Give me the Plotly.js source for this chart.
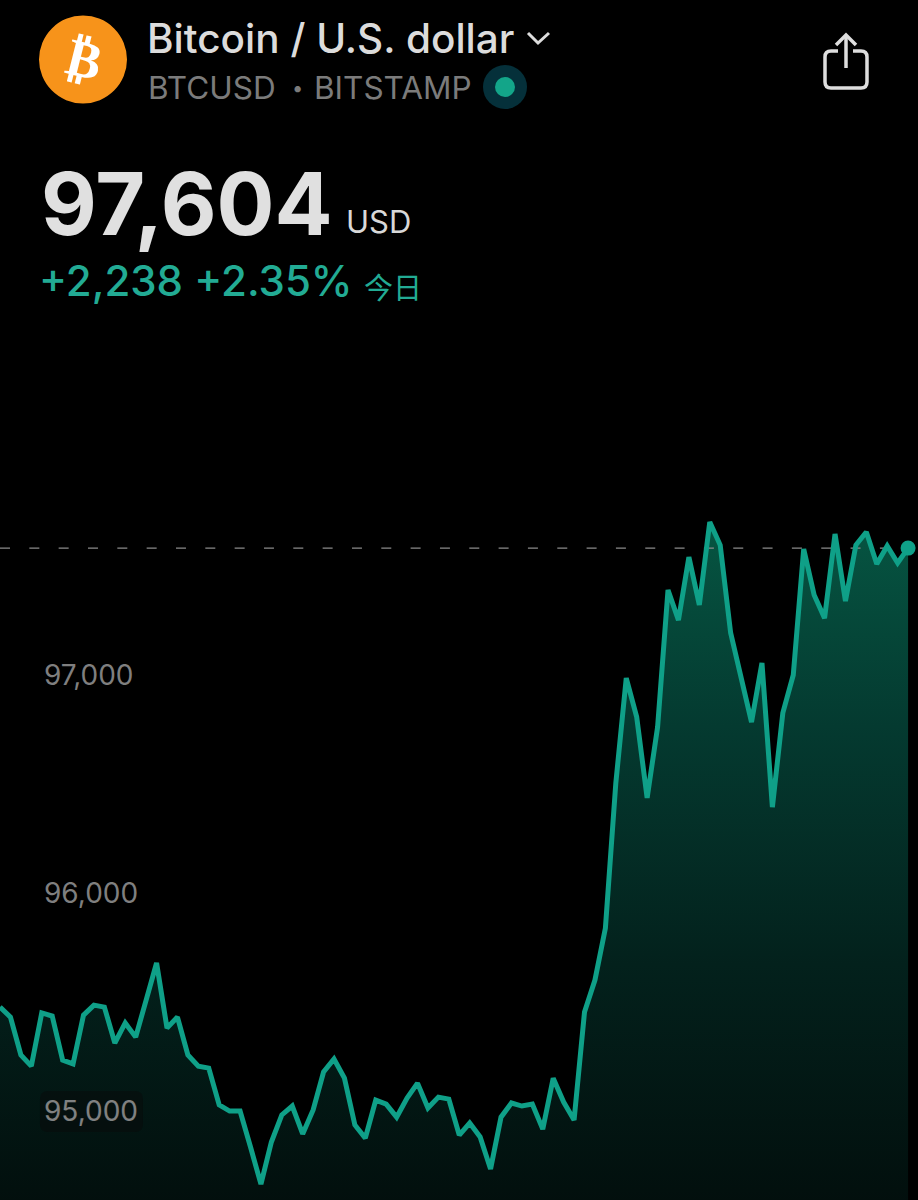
<!DOCTYPE html>
<html>
<head>
<meta charset="utf-8">
<script src="https://cdn.plot.ly/plotly-3.0.1.min.js"></script>
<style>html,body{margin:0;padding:0;background:#000;overflow:hidden}#chart{width:918px;height:1200px}</style>
</head>
<body>
<div id="chart"></div>
<script>
const prices = [95477,95431,95257,95206,95450,95436,95234,95216,95440,95486,95477,95312,95404,95339,95509,95679,95381,95431,95257,95206,95197,95028,95000,95000,94835,94665,94858,94982,95023,94895,95005,95179,95239,95151,94936,94876,95050,95032,94972,95060,95128,95014,95064,95055,94890,94945,94881,94734,94972,95037,95023,95032,94917,95151,95041,94959,95454,95601,95839,96505,96986,96807,96436,96761,97390,97252,97541,97321,97702,97596,97193,96977,96784,97055,96394,96826,97000,97578,97367,97261,97647,97339,97596,97656,97509,97592,97514,97582];
const tickValues = [95000,96000,97000];
const tickLabels = ['<span style="color:#f8f8f8">95,000</span>','96,000','97,000'];
const floorPrice = 94580;
const samples = prices.map((_, i) => i);
const lastIndex = samples[samples.length - 1];
const lastPrice = prices[prices.length - 1];

const W = 918, H = 1200;
const X = p => p / W, Y = p => 1 - p / H;
const P = (cmd, x, y) => cmd + X(x).toFixed(5) + ' ' + Y(y).toFixed(5);
const Q = (cx, cy, x, y) => 'Q' + X(cx).toFixed(5) + ' ' + Y(cy).toFixed(5) + ' ' + X(x).toFixed(5) + ' ' + Y(y).toFixed(5);
const polyPath = pts => pts.map((p, i) => P(i ? 'L' : 'M', p[0], p[1])).join(' ');
const circle = (cx, cy, r, color) => ({type:'circle', xref:'paper', yref:'paper', x0:X(cx-r), x1:X(cx+r), y0:Y(cy+r), y1:Y(cy-r), fillcolor:color, line:{width:0}, layer:'above'});
const stroke = (d, color, w) => ({type:'path', xref:'paper', yref:'paper', path:d, line:{color:color, width:w}, layer:'above'});
const label = (text, x, y, size, color, family, weight, extra) => Object.assign({xref:'paper', yref:'paper', x:X(x), y:Y(y), text:text, showarrow:false, xanchor:'left', yanchor:'middle', borderpad:0, font:{size:size, color:color, family:family, weight:weight}}, extra || {});

const chipPath = [P('M',48,1091),P('L',135,1091),Q(143,1091,143,1099),P('L',143,1124),Q(143,1132,135,1132),P('L',48,1132),Q(40,1132,40,1124),P('L',40,1099),Q(40,1091,48,1091),'Z'].join(' ');
const sharePath = [P('M',838,51),P('L',831,51),Q(825,51,825,57),P('L',825,82),Q(825,88,831,88),P('L',861,88),Q(867,88,867,82),P('L',867,57),Q(867,51,861,51),P('L',853,51)].join(' ');

const traces = [
  {x:samples, y:samples.map(() => floorPrice), mode:'lines', line:{width:0}, hoverinfo:'skip', showlegend:false},
  {x:samples, y:prices, mode:'lines', line:{width:0}, fill:'tonexty', hoverinfo:'skip', showlegend:false,
   fillgradient:{type:'vertical', colorscale:[[0,'#020f0d'],[0.35,'#03211c'],[0.7,'#043a30'],[1,'#065542']]}},
  {x:[0,lastIndex], y:[lastPrice,lastPrice], mode:'lines', line:{color:'#8a8a8a', width:1.2, dash:'10px,19.33px'}, hoverinfo:'skip', showlegend:false},
  {x:samples, y:prices, mode:'lines', line:{color:'#0fa088', width:5, shape:'linear'}, hoverinfo:'skip', showlegend:false},
  {x:[lastIndex], y:[lastPrice], mode:'markers', marker:{color:'#0fa088', size:15}, hoverinfo:'skip', showlegend:false}
];

const layout = {
  width:W, height:H, margin:{l:0,r:0,t:0,b:0},
  paper_bgcolor:'#000', plot_bgcolor:'#000', showlegend:false,
  xaxis:{range:[0, 87.95], visible:false, fixedrange:true},
  yaxis:{range:[94592, 100096], autorange:false, showgrid:false, zeroline:false, showline:false, ticks:'', fixedrange:true,
    tickmode:'array', tickvals:tickValues, ticktext:tickLabels, ticklabelposition:'inside', ticklabelstandoff:41, side:'left',
    tickfont:{family:'Inter, Roboto, sans-serif', size:28, color:'#7f7f7f'}},
  shapes:[
    {type:'path', xref:'paper', yref:'paper', path:chipPath, fillcolor:'rgba(8,10,10,0.5)', line:{width:0}, layer:'above'},
    circle(83,59.5,44,'#f7931a'),
    circle(505,87,22,'#05303a'),
    circle(505,87,10,'#13a589'),
    stroke(polyPath([[528,33],[538,43],[549,33]]),'#dcdcdc',3),
    stroke(sharePath,'#dedede',3.5),
    stroke(polyPath([[846,68],[846,36]]),'#dedede',3.5),
    stroke(polyPath([[836,45],[846,35],[856,45]]),'#dedede',3.5)
  ],
  annotations:[
    label('₿',84,59,52,'#ffffff','DejaVu Sans','bold',{xanchor:'center',textangle:14}),
    label('Bitcoin / U.S. dollar',146,39,40.5,'#dcdcdc','Inter, sans-serif',500),
    label('BTCUSD',147,87,31.5,'#7b7b7b','Inter, sans-serif',400),
    label('•',291,88,20,'#7b7b7b','Inter, sans-serif',400),
    label('BITSTAMP',313,87,31.5,'#7b7b7b','Inter, sans-serif',400),
    label('97,604',40,204,86,'#e0e0e0','Inter, sans-serif',700),
    label('USD',345,221,31,'#d8d8d8','Inter, sans-serif',400),
    label('+2,238 +2.35%',38,281,42,'#22ab94','Inter, sans-serif',500),
    label('今日',363,286,29,'#22ab94','"Noto Sans CJK SC", sans-serif',400)
  ]
};
Plotly.newPlot('chart', traces, layout, {displayModeBar:false, staticPlot:true});
</script>
</body>
</html>
